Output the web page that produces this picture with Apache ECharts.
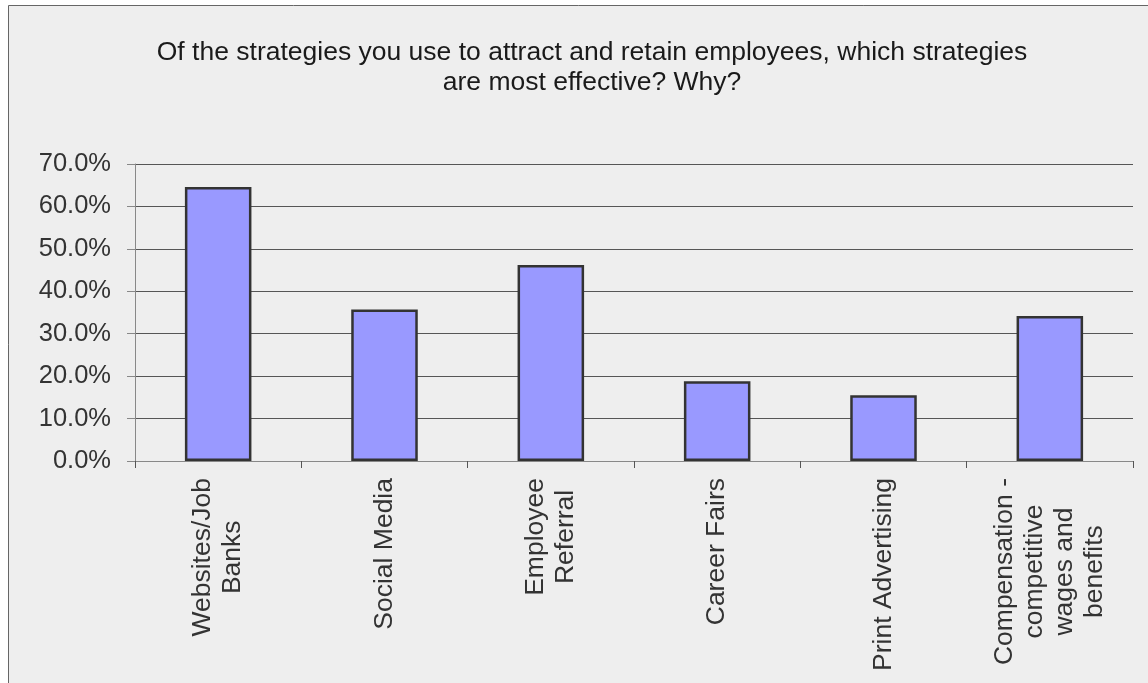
<!DOCTYPE html>
<html>
<head>
<meta charset="utf-8">
<style>
  html, body { margin: 0; padding: 0; background: #fff; }
  #main { width: 1148px; height: 683px; }
</style>
<script src="https://cdn.jsdelivr.net/npm/echarts@6/dist/echarts.min.js"></script>
</head>
<body>
<div id="main"></div>
<script>
// 数据
var titleLines = [
    'Of the strategies you use to attract and retain employees, which strategies',
    'are most effective? Why?'
];
var categories = [
    ['Websites/Job', 'Banks'],
    ['Social Media'],
    ['Employee', 'Referral'],
    ['Career Fairs'],
    ['Print Advertising'],
    ['Compensation -', 'competitive', 'wages and', 'benefits']
];
var values = [64.6, 35.7, 46.2, 18.8, 15.5, 34.2];
var yTicks = [0, 10, 20, 30, 40, 50, 60, 70];

var font = '"Liberation Sans", Arial, sans-serif';

var chart = echarts.init(document.getElementById('main'));

var option = {
    backgroundColor: '#ffffff',
    animation: false,
    graphic: [{
        type: 'rect',
        z: -10,
        shape: { x: 8.5, y: 5.5, width: 1200, height: 720 },
        style: { fill: '#eeeeee', stroke: '#666', lineWidth: 1 }
    }],
    title: {
        text: titleLines.join('\n'),
        left: 587,
        top: 33,
        textAlign: 'center',
        textStyle: {
            fontFamily: font,
            fontSize: 26.5,
            fontWeight: 'normal',
            color: '#1a1a1a',
            lineHeight: 30
        }
    },
    grid: {
        left: 135,
        right: 15,
        top: 164,
        bottom: 222,
        containLabel: false
    },
    xAxis: {
        type: 'category',
        data: categories.map(function (c) { return c.join('\n'); }),
        axisLine: { lineStyle: { color: '#888', width: 1 } },
        axisTick: { show: true, length: 7, alignWithLabel: false, lineStyle: { color: '#555' } },
        axisLabel: {
            interval: 0,
            rotate: 90,
            margin: 17,
            formatter: function (v) {
                return v.split('\n').map(function (s) { return '{a|' + s + '}'; }).join('\n');
            },
            rich: {
                a: {
                    fontFamily: font,
                    fontSize: 26.5,
                    color: '#333',
                    lineHeight: 30,
                    align: 'center'
                }
            }
        }
    },
    yAxis: {
        type: 'value',
        min: yTicks[0],
        max: yTicks[yTicks.length - 1],
        interval: 10,
        axisLine: { show: true, lineStyle: { color: '#888', width: 1 } },
        axisTick: { show: true, length: 8, lineStyle: { color: '#888' } },
        splitLine: { lineStyle: { color: '#555', width: 1 } },
        axisLabel: {
            margin: 24,
            fontFamily: font,
            fontSize: 25.5,
            color: '#333',
            formatter: function (v) { return v.toFixed(1) + '%'; }
        }
    },
    series: [{
        type: 'bar',
        data: values,
        barWidth: '40%',
        itemStyle: {
            color: '#9999ff',
            borderColor: '#333',
            borderWidth: 2.5
        }
    }]
};

chart.setOption(option);
</script>
</body>
</html>
